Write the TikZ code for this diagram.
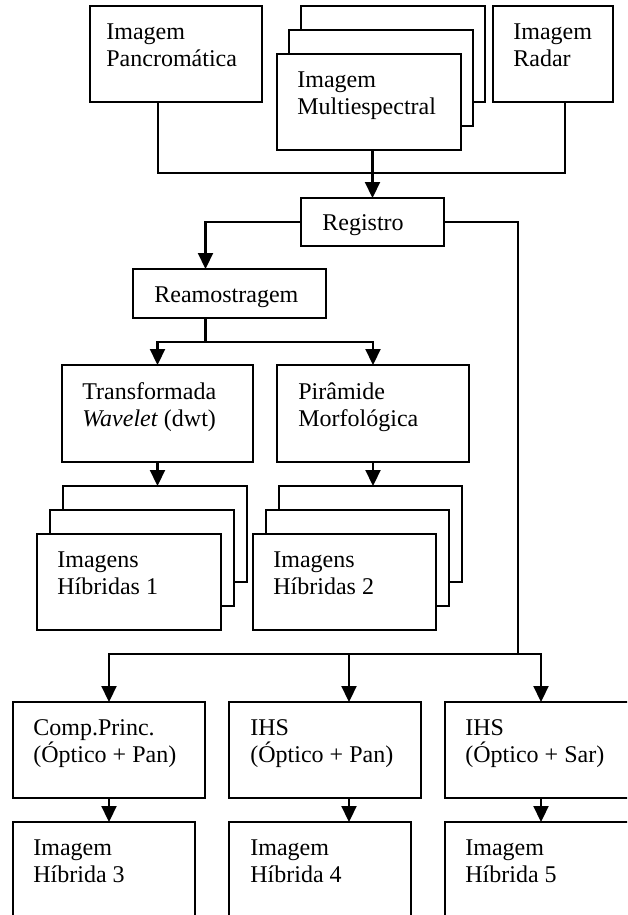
\documentclass[tikz,border=0pt]{standalone}
\usepackage{fontspec}
\setmainfont{Liberation Serif}
\usetikzlibrary{arrows.meta}

\begin{document}
\begin{tikzpicture}[x=0.5pt, y=-0.5pt,
  >={Triangle[length=8pt,width=7.5pt]},
  caixa/.style={draw, fill=white, line width=1.1pt, anchor=north west,
    inner sep=0pt, outer sep=0pt},
  linha/.style={line width=1.1pt},
  texto/.style={anchor=north west, align=left, inner sep=0pt,
    font=\fontsize{12}{13.5}\selectfont}]
\useasboundingbox (0,0) rectangle (627,915);
\clip (0,0) rectangle (627,915);

% entradas
\node[caixa, minimum width=86pt, minimum height=48pt] (pan) at (90,6) {};
\node[texto] (pant) at ([shift={(8pt,-8.8pt)}]pan.north west) {Imagem\\Pancromática};
\node[caixa, minimum width=92pt, minimum height=48pt] (multi3) at (301,6) {};
\node[caixa, minimum width=92pt, minimum height=48pt] (multi2) at (289,30) {};
\node[caixa, minimum width=92pt, minimum height=48pt] (multi1) at (277,54) {};
\node[texto] (multit) at ([shift={(10pt,-8.8pt)}]multi1.north west) {Imagem\\Multiespectral};
\node[caixa, minimum width=60pt, minimum height=48pt] (radar) at (493,6) {};
\node[texto] (radart) at ([shift={(10pt,-8.8pt)}]radar.north west) {Imagem\\Radar};

% registro e reamostragem
\node[caixa, minimum width=71.5pt, minimum height=24pt] (reg) at (301,198) {};
\node[texto] (regt) at ([shift={(10.5pt,-8pt)}]reg.north west) {Registro};
\node[caixa, minimum width=96.5pt, minimum height=24.5pt] (ream) at (133,269) {};
\node[texto] (reamt) at ([shift={(10.5pt,-8.5pt)}]ream.north west) {Reamostragem};

% fusao multiescala
\node[caixa, minimum width=95.5pt, minimum height=48.5pt] (trans) at (62,365) {};
\node[texto] (transt) at ([shift={(10pt,-8.8pt)}]trans.north west) {Transformada\\\textit{Wavelet} (dwt)};
\node[caixa, minimum width=96pt, minimum height=48.5pt] (pir) at (277,365) {};
\node[texto] (pirt) at ([shift={(10.5pt,-8.8pt)}]pir.north west) {Pirâmide\\Morfológica};

\node[caixa, minimum width=92pt, minimum height=48pt] (hib1c) at (63,486) {};
\node[caixa, minimum width=92pt, minimum height=48pt] (hib1b) at (50,510) {};
\node[caixa, minimum width=92pt, minimum height=48pt] (hib1a) at (37,534) {};
\node[texto] (hib1t) at ([shift={(10pt,-8.8pt)}]hib1a.north west) {Imagens\\Híbridas 1};
\node[caixa, minimum width=91.5pt, minimum height=48pt] (hib2c) at (279,486) {};
\node[caixa, minimum width=91.5pt, minimum height=48pt] (hib2b) at (266,510) {};
\node[caixa, minimum width=91.5pt, minimum height=48pt] (hib2a) at (253,534) {};
\node[texto] (hib2t) at ([shift={(10pt,-8.8pt)}]hib2a.north west) {Imagens\\Híbridas 2};

% fusao por componentes
\node[caixa, minimum width=96pt, minimum height=48pt] (cp) at (13,702) {};
\node[texto] (cpt) at ([shift={(10pt,-8.8pt)}]cp.north west) {Comp.Princ.\\(Óptico + Pan)};
\node[caixa, minimum width=96pt, minimum height=48pt] (ihsp) at (229,702) {};
\node[texto] (ihspt) at ([shift={(10.5pt,-8.8pt)}]ihsp.north west) {IHS\\(Óptico + Pan)};
\node[caixa, minimum width=96pt, minimum height=48pt] (ihss) at (445,702) {};
\node[texto] (ihsst) at ([shift={(10pt,-8.8pt)}]ihss.north west) {IHS\\(Óptico + Sar)};

\node[caixa, minimum width=91pt, minimum height=48pt] (h3) at (13,822) {};
\node[texto] (h3t) at ([shift={(10pt,-8.8pt)}]h3.north west) {Imagem\\Híbrida 3};
\node[caixa, minimum width=91pt, minimum height=48pt] (h4) at (229,822) {};
\node[texto] (h4t) at ([shift={(10.5pt,-8.8pt)}]h4.north west) {Imagem\\Híbrida 4};
\node[caixa, minimum width=96pt, minimum height=48pt] (h5) at (445,822) {};
\node[texto] (h5t) at ([shift={(10pt,-8.8pt)}]h5.north west) {Imagem\\Híbrida 5};

% ligacoes
\draw[linha] ([xshift=-9pt]pan.south) -- ++(0,71) -| ([xshift=6pt]radar.south);
\draw[linha,->] (multi1.south -| reg.north) -- (reg.north);
\draw[linha,->] (reg.west) -| ([xshift=-12pt]ream.north);
\draw[linha,->] ([xshift=-12pt]ream.south) -- ++(0,24) -| (trans.north);
\draw[linha,->] ([xshift=-12pt]ream.south) -- ++(0,24) -| (pir.north);
\draw[linha,->] (trans.south) -- (trans.south |- hib1c.north);
\draw[linha,->] (pir.south) -- (pir.south |- hib2c.north);

\coordinate (desvio) at (518,654);
\coordinate (p4n) at ([xshift=12pt]ihsp.north);
\coordinate (p4s) at ([xshift=12pt]ihsp.south);
\draw[linha] (reg.east) -| (desvio);
\draw[linha,->] (desvio) -| (cp.north);
\draw[linha,->] (desvio) -| (ihss.north);
\draw[linha,->] (p4n |- desvio) -- (p4n);
\draw[linha,->] (cp.south) -- (cp.south |- h3.north);
\draw[linha,->] (p4s) -- (p4s |- h4.north);
\draw[linha,->] (ihss.south) -- (ihss.south |- h5.north);
\end{tikzpicture}
\end{document}
